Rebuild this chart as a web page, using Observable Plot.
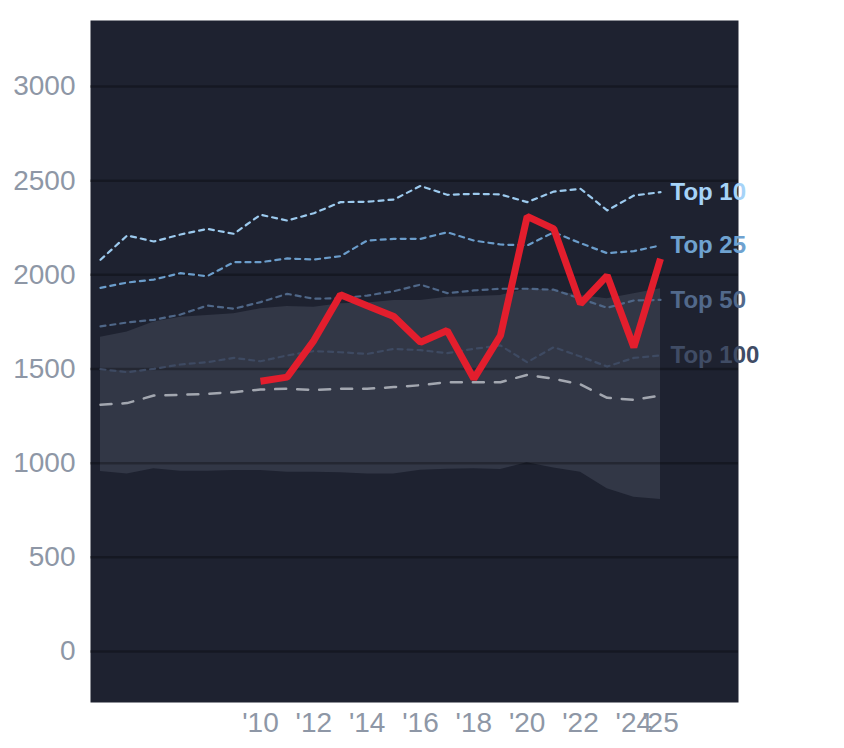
<!DOCTYPE html>
<html>
<head>
<meta charset="utf-8">
<script src="https://cdn.jsdelivr.net/npm/d3@7"></script>
<script src="https://cdn.jsdelivr.net/npm/@observablehq/plot@0.6"></script>
<style>
  html, body { margin: 0; padding: 0; background: #ffffff; }
  #chart svg { display: block; }
</style>
</head>
<body>
<div id="chart"></div>
<script>
const years = [2004, 2005, 2006, 2007, 2008, 2009, 2010, 2011, 2012, 2013, 2014, 2015, 2016, 2017, 2018, 2019, 2020, 2021, 2022, 2023, 2024, 2025];
const top10  = [2080, 2209, 2177, 2214, 2244, 2218, 2319, 2288, 2327, 2386, 2388, 2400, 2472, 2425, 2430, 2427, 2386, 2442, 2457, 2342, 2421, 2439];
const top25  = [1931, 1959, 1975, 2009, 1993, 2067, 2067, 2087, 2081, 2099, 2182, 2191, 2191, 2226, 2182, 2161, 2156, 2226, 2168, 2115, 2126, 2156];
const top50  = [1726, 1747, 1761, 1789, 1837, 1820, 1855, 1899, 1873, 1876, 1890, 1913, 1948, 1903, 1917, 1926, 1926, 1921, 1873, 1825, 1864, 1867];
const top100 = [1499, 1483, 1501, 1524, 1536, 1559, 1541, 1572, 1595, 1589, 1580, 1607, 1600, 1584, 1607, 1625, 1536, 1616, 1566, 1513, 1559, 1572];
const median = [1310, 1319, 1359, 1363, 1368, 1377, 1391, 1395, 1389, 1395, 1395, 1404, 1414, 1430, 1430, 1430, 1469, 1448, 1418, 1347, 1336, 1359];
const bandHigh = [1669, 1696, 1749, 1775, 1784, 1793, 1820, 1832, 1828, 1846, 1850, 1864, 1864, 1881, 1885, 1890, 1926, 1917, 1890, 1873, 1899, 1926];
const bandLow  = [956, 943, 970, 957, 957, 961, 961, 952, 952, 949, 943, 943, 963, 968, 970, 966, 1002, 975, 952, 864, 819, 807];
const teamYears = [2010, 2011, 2012, 2013, 2014, 2015, 2016, 2017, 2018, 2019, 2020, 2021, 2022, 2023, 2024, 2025];
const teamValues = [1435, 1457, 1651, 1894, 1836, 1779, 1642, 1704, 1448, 1678, 2310, 2244, 1846, 1996, 1616, 2085];
const xTicks = [2010, 2012, 2014, 2016, 2018, 2020, 2022, 2024, 2025];
const yTicks = [0, 500, 1000, 1500, 2000, 2500, 3000];
const seriesNames = ["Top 10", "Top 25", "Top 50", "Top 100"];
const seriesColors = ["#9ccaee", "#6b9dcb", "#4f6788", "#3e4a62"];
const labelColors = ["#a6d3f8", "#6fa2d0", "#52698b", "#404c65"];

const band = years.map((y, i) => ({year: y, lo: bandLow[i], hi: bandHigh[i]}));
const seriesVals = [top10, top25, top50, top100];
const seriesData = seriesVals.map((vals, k) => years.map((y, i) => ({year: y, value: vals[i], name: seriesNames[k]})));
const medianData = years.map((y, i) => ({year: y, value: median[i]}));
const team = teamYears.map((y, i) => ({year: y, value: teamValues[i]}));
const lastPoints = seriesVals.map((vals, k) => ({year: years[years.length - 1], value: vals[vals.length - 1], name: seriesNames[k], color: labelColors[k]}));

const marks = [
  Plot.frame({fill: "#1e2230", stroke: null}),
  Plot.areaY(band, {x: "year", y1: "lo", y2: "hi", fill: "#323746"}),
  Plot.gridY(yTicks, {stroke: "#000000", strokeOpacity: 0.28, strokeWidth: 2.5}),
  Plot.line(medianData, {x: "year", y: "value", stroke: "#a3a7b0", strokeWidth: 2.5, strokeDasharray: "11,11"})
];
seriesData.forEach((d, k) => {
  marks.push(Plot.line(d, {x: "year", y: "value", stroke: seriesColors[k], strokeWidth: 2.2, strokeDasharray: "5,5"}));
});
marks.push(Plot.line(team, {x: "year", y: "value", stroke: "#e31e2d", strokeWidth: 7, strokeLinejoin: "miter", strokeLinecap: "butt"}));
marks.push(Plot.text(lastPoints, {x: "year", y: "value", text: "name", fill: "color", dx: 10, textAnchor: "start", fontSize: 24, fontWeight: "bold"}));
marks.push(Plot.axisY(yTicks, {tickSize: 0, tickPadding: 15, fontSize: 28, fill: "#8e97a6", textAnchor: "end", label: null, tickFormat: d => String(d)}));
marks.push(Plot.axisX(xTicks, {tickSize: 0, tickPadding: 10, fontSize: 28, fill: "#8e97a6", label: null, tickFormat: d => "'" + String(d).slice(2)}));

const chart = Plot.plot({
  width: 844,
  height: 748,
  marginLeft: 90,
  marginRight: 106,
  marginTop: 20,
  marginBottom: 46,
  style: {fontFamily: "'Liberation Sans', Arial, sans-serif", background: "#ffffff", overflow: "visible"},
  x: {domain: [2004, 2025], insetLeft: 10, insetRight: 78},
  y: {domain: [0, 3000], insetTop: 66, insetBottom: 51},
  marks
});
document.getElementById("chart").appendChild(chart);
</script>
</body>
</html>
